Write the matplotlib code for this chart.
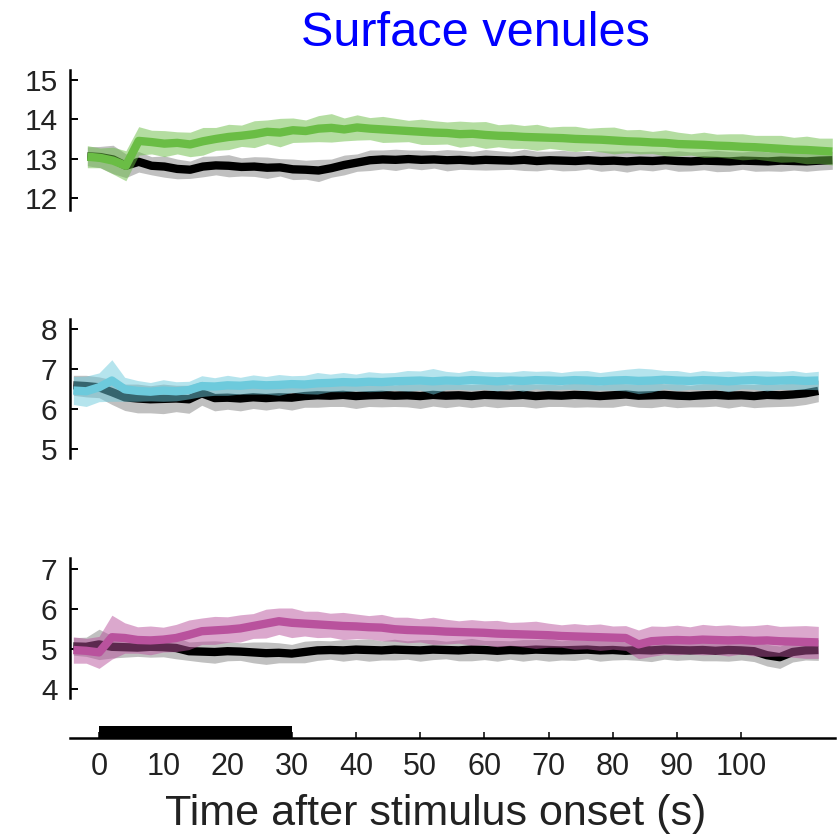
import numpy as np
import matplotlib
matplotlib.use("Agg")
import matplotlib.pyplot as plt

plt.rcParams['font.family'] = ['Liberation Sans', 'DejaVu Sans']

# time grid (s) shared by all traces
t = [-4, -2, 0, 2, 4, 6, 8, 10, 12, 14, 16, 18, 20, 22, 24, 26, 28, 30, 32, 34,
     36, 38, 40, 42, 44, 46, 48, 50, 52, 54, 56, 58, 60, 62, 64, 66, 68, 70, 72, 74,
     76, 78, 80, 82, 84, 86, 88, 90, 92, 94, 96, 98, 100, 102, 104, 106, 108, 110, 112]

# top panel: green vs control (black)
green_mean = [13.05, 13.02, 12.95, 12.82, 13.45, 13.42, 13.38, 13.40, 13.36, 13.44,
              13.50, 13.55, 13.58, 13.62, 13.68, 13.66, 13.72, 13.70, 13.76, 13.78,
              13.74, 13.79, 13.76, 13.74, 13.72, 13.70, 13.68, 13.66, 13.65, 13.62,
              13.63, 13.60, 13.58, 13.57, 13.55, 13.54, 13.53, 13.52, 13.50, 13.49,
              13.48, 13.46, 13.44, 13.43, 13.41, 13.40, 13.37, 13.36, 13.35, 13.33,
              13.32, 13.30, 13.29, 13.27, 13.25, 13.23, 13.22, 13.20, 13.18]
green_sem = [0.28, 0.25, 0.34, 0.38, 0.36, 0.30, 0.33, 0.28, 0.31, 0.35,
             0.29, 0.32, 0.27, 0.34, 0.30, 0.36, 0.31, 0.28, 0.33, 0.36,
             0.29, 0.32, 0.28, 0.33, 0.30, 0.27, 0.32, 0.30, 0.28, 0.33,
             0.30, 0.34, 0.28, 0.31, 0.29, 0.33, 0.27, 0.30, 0.32, 0.28,
             0.31, 0.34, 0.29, 0.31, 0.28, 0.33, 0.30, 0.27, 0.32, 0.29,
             0.31, 0.33, 0.30, 0.32, 0.34, 0.31, 0.35, 0.32, 0.34]
ctrl1_mean = [13.06, 13.04, 12.98, 12.82, 12.92, 12.82, 12.80, 12.74, 12.72, 12.80,
              12.83, 12.82, 12.79, 12.80, 12.77, 12.78, 12.73, 12.72, 12.70, 12.76,
              12.84, 12.90, 12.96, 12.98, 12.97, 12.99, 12.97, 12.98, 12.96, 12.97,
              12.95, 12.97, 12.96, 12.95, 12.97, 12.94, 12.96, 12.95, 12.94, 12.96,
              12.94, 12.95, 12.93, 12.95, 12.94, 12.96, 12.94, 12.93, 12.95, 12.94,
              12.93, 12.95, 12.94, 12.93, 12.95, 12.94, 12.93, 12.95, 12.96]
ctrl1_sem = [0.24, 0.27, 0.36, 0.30, 0.26, 0.23, 0.27, 0.25, 0.22, 0.26,
             0.24, 0.28, 0.23, 0.25, 0.27, 0.22, 0.26, 0.24, 0.28, 0.23,
             0.25, 0.22, 0.26, 0.24, 0.27, 0.23, 0.25, 0.22, 0.27, 0.24,
             0.23, 0.26, 0.24, 0.22, 0.27, 0.25, 0.23, 0.26, 0.24, 0.22,
             0.26, 0.24, 0.27, 0.23, 0.25, 0.22, 0.26, 0.24, 0.23, 0.27,
             0.25, 0.22, 0.26, 0.24, 0.27, 0.23, 0.25, 0.24, 0.23]

# middle panel: cyan vs control
cyan_mean = [6.47, 6.45, 6.55, 6.72, 6.50, 6.46, 6.44, 6.47, 6.45, 6.48,
             6.58, 6.57, 6.60, 6.59, 6.62, 6.60, 6.61, 6.63, 6.62, 6.65,
             6.66, 6.68, 6.67, 6.69, 6.68, 6.70, 6.71, 6.72, 6.70, 6.72,
             6.71, 6.73, 6.72, 6.70, 6.72, 6.71, 6.73, 6.72, 6.71, 6.73,
             6.72, 6.70, 6.72, 6.73, 6.71, 6.72, 6.74, 6.72, 6.71, 6.73,
             6.72, 6.70, 6.72, 6.73, 6.71, 6.72, 6.73, 6.71, 6.72]
cyan_sem = [0.35, 0.38, 0.36, 0.52, 0.30, 0.26, 0.23, 0.27, 0.24, 0.22,
            0.26, 0.22, 0.25, 0.21, 0.24, 0.22, 0.26, 0.21, 0.23, 0.27,
            0.22, 0.24, 0.21, 0.25, 0.23, 0.22, 0.26, 0.24, 0.32, 0.23,
            0.21, 0.25, 0.22, 0.24, 0.21, 0.26, 0.22, 0.24, 0.21, 0.23,
            0.25, 0.22, 0.24, 0.27, 0.32, 0.29, 0.23, 0.25, 0.21, 0.24,
            0.22, 0.26, 0.21, 0.23, 0.25, 0.22, 0.24, 0.21, 0.23]
ctrl2_mean = [6.60, 6.58, 6.55, 6.43, 6.30, 6.27, 6.25, 6.26, 6.27, 6.25,
              6.40, 6.28, 6.29, 6.27, 6.30, 6.28, 6.30, 6.29, 6.33, 6.35,
              6.34, 6.36, 6.33, 6.35, 6.36, 6.34, 6.35, 6.33, 6.36, 6.34,
              6.35, 6.33, 6.36, 6.35, 6.34, 6.36, 6.33, 6.35, 6.34, 6.36,
              6.35, 6.33, 6.35, 6.37, 6.34, 6.35, 6.36, 6.34, 6.33, 6.35,
              6.36, 6.34, 6.35, 6.33, 6.36, 6.35, 6.37, 6.40, 6.46]
ctrl2_sem = [0.25, 0.27, 0.26, 0.31, 0.33, 0.36, 0.34, 0.37, 0.33, 0.35,
             0.30, 0.32, 0.29, 0.31, 0.28, 0.30, 0.27, 0.31, 0.28, 0.30,
             0.27, 0.29, 0.31, 0.28, 0.30, 0.27, 0.29, 0.31, 0.28, 0.30,
             0.27, 0.29, 0.28, 0.31, 0.27, 0.29, 0.30, 0.28, 0.27, 0.31,
             0.29, 0.28, 0.30, 0.27, 0.29, 0.31, 0.28, 0.30, 0.27, 0.29,
             0.28, 0.31, 0.27, 0.29, 0.30, 0.28, 0.29, 0.28, 0.27]

# bottom panel: magenta vs control
pink_mean = [4.98, 4.96, 4.92, 5.30, 5.28, 5.23, 5.22, 5.24, 5.28, 5.36,
             5.45, 5.47, 5.49, 5.52, 5.58, 5.64, 5.70, 5.66, 5.64, 5.62,
             5.60, 5.58, 5.57, 5.55, 5.54, 5.50, 5.48, 5.47, 5.46, 5.44,
             5.43, 5.42, 5.41, 5.39, 5.38, 5.37, 5.36, 5.35, 5.33, 5.32,
             5.31, 5.30, 5.29, 5.28, 5.12, 5.20, 5.22, 5.23, 5.22, 5.24,
             5.23, 5.22, 5.23, 5.21, 5.22, 5.20, 5.19, 5.18, 5.17]
pink_sem = [0.33, 0.31, 0.40, 0.55, 0.38, 0.33, 0.36, 0.31, 0.34, 0.37,
            0.33, 0.35, 0.32, 0.34, 0.31, 0.36, 0.33, 0.37, 0.31, 0.33,
            0.30, 0.34, 0.31, 0.29, 0.33, 0.30, 0.32, 0.29, 0.34, 0.31,
            0.28, 0.32, 0.30, 0.33, 0.29, 0.31, 0.34, 0.30, 0.28, 0.32,
            0.30, 0.33, 0.29, 0.31, 0.36, 0.38, 0.35, 0.37, 0.34, 0.38,
            0.36, 0.39, 0.35, 0.38, 0.40, 0.37, 0.39, 0.41, 0.40]
ctrl3_mean = [5.07, 5.06, 5.12, 5.06, 5.05, 5.04, 5.06, 5.05, 5.03, 4.95,
              4.94, 4.93, 4.95, 4.94, 4.92, 4.90, 4.91, 4.89, 4.93, 4.97,
              4.98, 4.97, 4.99, 4.98, 4.97, 4.99, 4.98, 4.97, 4.99, 4.98,
              4.97, 4.99, 4.98, 4.96, 4.98, 4.97, 4.99, 4.98, 4.97, 4.98,
              4.99, 4.97, 4.98, 4.96, 4.98, 4.97, 4.99, 4.98, 4.97, 4.98,
              4.96, 4.98, 4.97, 4.95, 4.85, 4.80, 4.93, 4.97, 4.98]
ctrl3_sem = [0.22, 0.24, 0.38, 0.28, 0.25, 0.22, 0.26, 0.24, 0.27, 0.23,
             0.26, 0.28, 0.24, 0.22, 0.26, 0.28, 0.25, 0.23, 0.27, 0.25,
             0.23, 0.27, 0.25, 0.28, 0.24, 0.26, 0.23, 0.27, 0.25, 0.22,
             0.26, 0.28, 0.24, 0.26, 0.23, 0.27, 0.25, 0.28, 0.24, 0.26,
             0.23, 0.27, 0.25, 0.22, 0.26, 0.28, 0.24, 0.26, 0.23, 0.27,
             0.25, 0.28, 0.24, 0.26, 0.27, 0.28, 0.25, 0.24, 0.26]

yticks_top = [12, 13, 14, 15]
yticks_mid = [5, 6, 7, 8]
yticks_bot = [4, 5, 6, 7]
xticks = [0, 10, 20, 30, 40, 50, 60, 70, 80, 90, 100]
stim_on, stim_off = 0, 30

W, H = 838, 835
fig = plt.figure(figsize=(W / 100, H / 100), dpi=100)


def px_axes(x0, y0, x1, y1):
    # axes from pixel box (top-left origin)
    return fig.add_axes([x0 / W, 1 - y1 / H, (x1 - x0) / W, (y1 - y0) / H])


def style(ax, ylim, yticks):
    for s in ['top', 'right', 'bottom']:
        ax.spines[s].set_visible(False)
    ax.spines['left'].set_linewidth(1.8)
    ax.set_ylim(*ylim)
    ax.set_yticks(yticks)
    ax.set_xticks([])
    ax.tick_params(axis='y', direction='in', length=6, width=1.4,
                   labelsize=21.5, pad=9, labelcolor='#222222')
    ax.patch.set_alpha(0)


def draw(ax, c_mean, c_sem, col, k_mean, k_sem):
    tt = np.array(t)
    km, ks = np.array(k_mean), np.array(k_sem)
    cm, cs = np.array(c_mean), np.array(c_sem)
    ax.fill_between(tt, km - ks, km + ks, color='#c0c0c0', lw=0, zorder=1)
    ax.plot(tt, km, color='black', lw=6, zorder=2, solid_capstyle='butt')
    ax.fill_between(tt, cm - cs, cm + cs, color=col, alpha=0.5, lw=0, zorder=3)
    ax.plot(tt, cm, color=col, lw=6, zorder=4, solid_capstyle='butt')


xl = (-4.52, 114.6)

ax1 = px_axes(70, 70, 835, 210)
draw(ax1, green_mean, green_sem, '#6abd45', ctrl1_mean, ctrl1_sem)
style(ax1, (11.70, 15.245), yticks_top)
ax1.set_xlim(xl[0] - 2.18, xl[1] - 2.18)

ax2 = px_axes(70, 319, 835, 458)
draw(ax2, cyan_mean, cyan_sem, '#6dcadc', ctrl2_mean, ctrl2_sem)
style(ax2, (4.78, 8.26), yticks_mid)
ax2.set_xlim(*xl)

ax3 = px_axes(70, 558, 835, 698)
draw(ax3, pink_mean, pink_sem, '#b9529d', ctrl3_mean, ctrl3_sem)
style(ax3, (3.78, 7.28), yticks_bot)
ax3.set_xlim(*xl)

# time axis with stimulus bar
ax4 = px_axes(70, 726, 835, 738)
ax4.set_xlim(*xl)
ax4.set_ylim(0, 1)
ax4.fill_between([stim_on, stim_off], 0, 1, color='black', lw=0)
for s in ['top', 'right', 'left']:
    ax4.spines[s].set_visible(False)
ax4.spines['bottom'].set_linewidth(1.8)
ax4.set_yticks([])
ax4.set_xticks(xticks)
ax4.tick_params(axis='x', direction='in', length=4.5, width=1.1,
                labelsize=22, pad=10, labelcolor='#222222')
ax4.patch.set_alpha(0)

fig.text(475 / W, 1 - 46 / H, 'Surface venules', color='#0000ff',
         fontsize=35, ha='center', va='baseline')
fig.text(436 / W, 1 - 825 / H, 'Time after stimulus onset (s)', color='#222222',
         fontsize=31, ha='center', va='baseline')

fig.savefig('out.png', dpi=100)
